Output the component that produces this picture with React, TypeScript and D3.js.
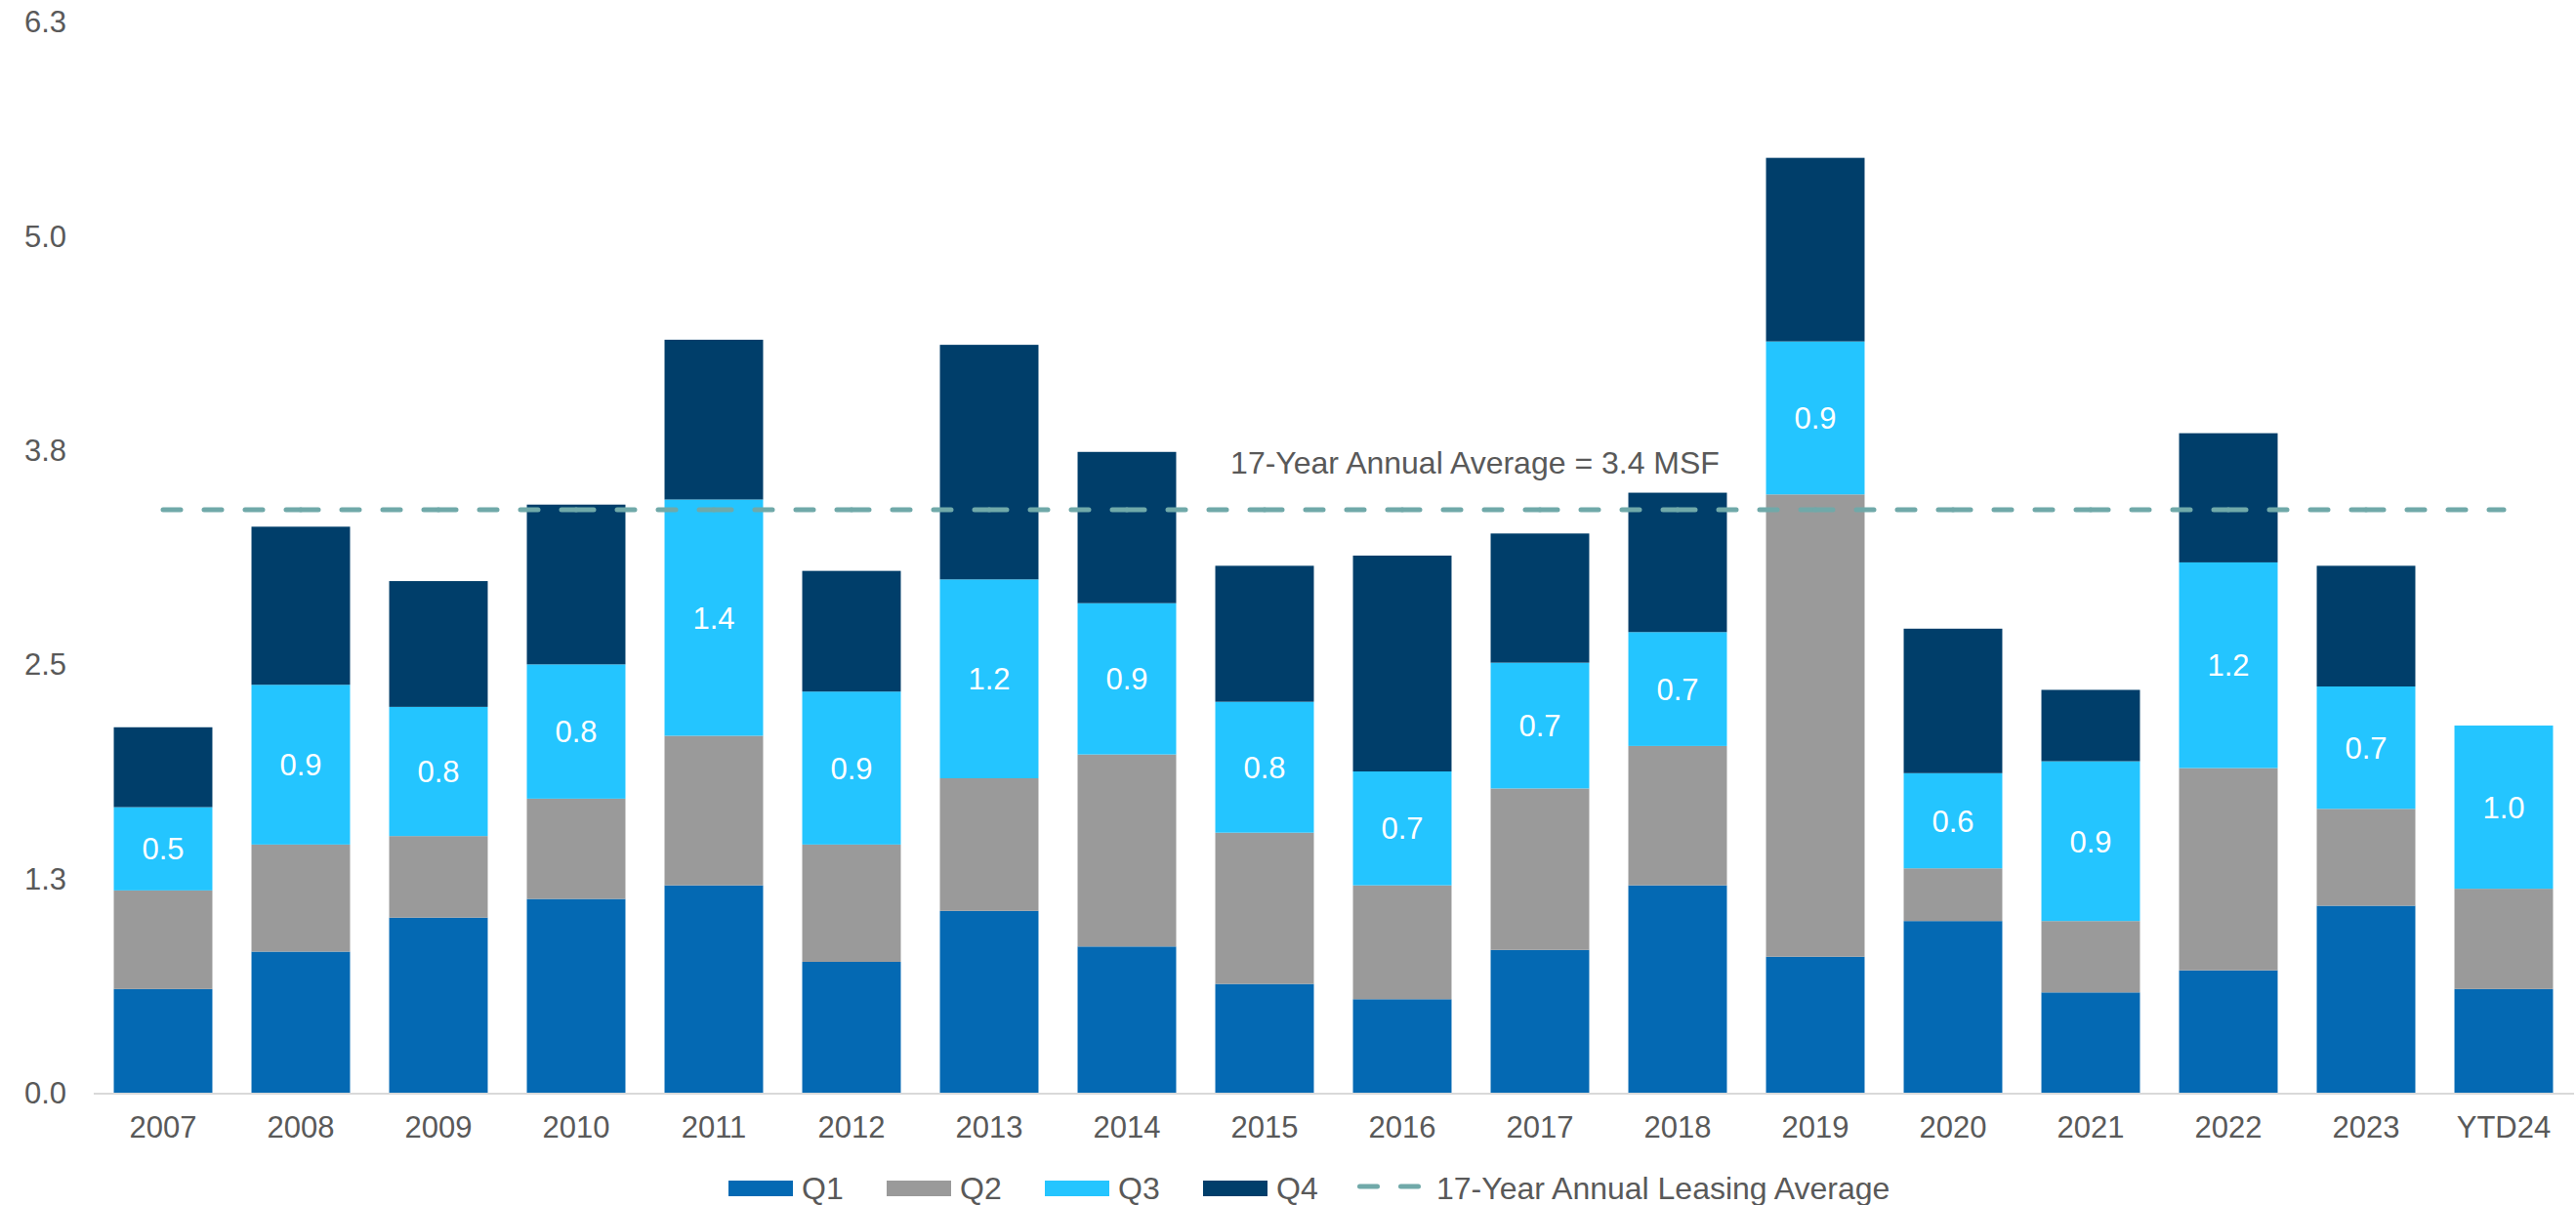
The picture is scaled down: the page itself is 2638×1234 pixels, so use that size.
import { useEffect, useRef } from 'react';
import * as d3 from 'd3';

const years = ['2007', '2008', '2009', '2010', '2011', '2012', '2013', '2014', '2015', '2016', '2017', '2018', '2019', '2020', '2021', '2022', '2023', 'YTD24'];
const q1 = [0.61, 0.83, 1.03, 1.14, 1.22, 0.77, 1.07, 0.86, 0.64, 0.55, 0.84, 1.22, 0.80, 1.01, 0.59, 0.72, 1.10, 0.61];
const q2 = [0.58, 0.63, 0.48, 0.59, 0.88, 0.69, 0.78, 1.13, 0.89, 0.67, 0.95, 0.82, 2.72, 0.31, 0.42, 1.19, 0.57, 0.59];
const q3 = [0.49, 0.94, 0.76, 0.79, 1.39, 0.90, 1.17, 0.89, 0.77, 0.67, 0.74, 0.67, 0.90, 0.56, 0.94, 1.21, 0.72, 0.96];
const q4 = [0.47, 0.93, 0.74, 0.94, 0.94, 0.71, 1.38, 0.89, 0.80, 1.27, 0.76, 0.82, 1.08, 0.85, 0.42, 0.76, 0.71, 0];
const yTicks = [0, 1.26, 2.52, 3.78, 5.04, 6.3];
const avgValue = 3.43;
const avgLabel = '17-Year Annual Average = 3.4 MSF';
const seriesNames = ['Q1', 'Q2', 'Q3', 'Q4'];
const seriesColors = ['#0469B3', '#9A9A9A', '#24C5FF', '#003E6A'];
const avgLegend = '17-Year Annual Leasing Average';

const FONT = '"Liberation Sans", Arial, sans-serif';
const TEXT = '#595959';
const AVG_COLOR = '#70A9A9';

export default function App() {
  const svgRef = useRef<SVGSVGElement>(null);

  useEffect(() => {
    if (!svgRef.current) return;
    const width = 2638;
    const height = 1234;
    const svg = d3.select(svgRef.current);
    svg.selectAll('*').remove();
    svg.attr('width', width).attr('height', height);

    const x = d3.scaleBand<string>()
      .domain(years)
      .range([96.5, 2634.5])
      .paddingInner(0.284)
      .paddingOuter(0.142);
    const y = d3.scaleLinear().domain([0, 6.3]).range([1119, 22.4]);

    const rows = years.map((yr, i) => ({ year: yr, Q1: q1[i], Q2: q2[i], Q3: q3[i], Q4: q4[i] }));
    const stacked = d3.stack<any>().keys(seriesNames)(rows);

    // y tick labels (no gridlines)
    svg.append('g')
      .selectAll('text')
      .data(yTicks)
      .join('text')
      .attr('x', 68)
      .attr('y', (d) => y(d))
      .attr('dy', '0.35em')
      .attr('text-anchor', 'end')
      .attr('fill', TEXT)
      .attr('font-family', FONT)
      .attr('font-size', '31px')
      .text((d) => d.toFixed(1));

    // stacked bars
    stacked.forEach((layer, si) => {
      svg.append('g')
        .attr('fill', seriesColors[si])
        .selectAll('rect')
        .data(layer)
        .join('rect')
        .attr('x', (d: any) => x(d.data.year)!)
        .attr('width', x.bandwidth())
        .attr('y', (d) => y(d[1]))
        .attr('height', (d) => Math.max(0, y(d[0]) - y(d[1])));
    });

    // Q3 value labels
    const q3Layer = stacked[2];
    svg.append('g')
      .selectAll('text')
      .data(q3Layer)
      .join('text')
      .attr('x', (d: any) => x(d.data.year)! + x.bandwidth() / 2)
      .attr('y', (d) => (y(d[0]) + y(d[1])) / 2)
      .attr('dy', '0.36em')
      .attr('text-anchor', 'middle')
      .attr('fill', '#ffffff')
      .attr('font-family', FONT)
      .attr('font-size', '31px')
      .text((d: any) => d.data.Q3.toFixed(1));

    // x axis line
    svg.append('line')
      .attr('x1', 96).attr('x2', 2636)
      .attr('y1', y(0) + 1).attr('y2', y(0) + 1)
      .attr('stroke', '#D9D9D9')
      .attr('stroke-width', 2);

    // year labels
    svg.append('g')
      .selectAll('text')
      .data(years)
      .join('text')
      .attr('x', (d) => x(d)! + x.bandwidth() / 2)
      .attr('y', 1165)
      .attr('text-anchor', 'middle')
      .attr('fill', TEXT)
      .attr('font-family', FONT)
      .attr('font-size', '31px')
      .text((d) => d);

    // average line: dashes restart at every category, like the source chart
    const centers = years.map((d) => x(d)! + x.bandwidth() / 2);
    const ya = y(avgValue);
    const avgG = svg.append('g');
    for (let i = 0; i < centers.length - 1; i++) {
      avgG.append('line')
        .attr('x1', centers[i]).attr('x2', centers[i + 1])
        .attr('y1', ya).attr('y2', ya)
        .attr('stroke', AVG_COLOR)
        .attr('stroke-width', 5)
        .attr('stroke-linecap', 'round')
        .attr('stroke-dasharray', '18 24');
    }

    svg.append('text')
      .attr('x', (centers[9] + centers[10]) / 2 + 4)
      .attr('y', ya - 37)
      .attr('text-anchor', 'middle')
      .attr('fill', TEXT)
      .attr('font-family', FONT)
      .attr('font-size', '32px')
      .text(avgLabel);

    // legend
    const legend = svg.append('g');
    const lx = 746;
    const ly = 1217;
    seriesNames.forEach((name, i) => {
      const gx = lx + i * 162;
      legend.append('rect')
        .attr('x', gx).attr('y', ly - 8)
        .attr('width', 66).attr('height', 16)
        .attr('fill', seriesColors[i]);
      legend.append('text')
        .attr('x', gx + 75).attr('y', ly + 11)
        .attr('fill', TEXT)
        .attr('font-family', FONT)
        .attr('font-size', '32px')
        .text(name);
    });
    legend.append('line')
      .attr('x1', 1392.5).attr('x2', 1453.5)
      .attr('y1', ly - 2).attr('y2', ly - 2)
      .attr('stroke', AVG_COLOR)
      .attr('stroke-width', 5)
      .attr('stroke-linecap', 'round')
      .attr('stroke-dasharray', '18 24');
    legend.append('text')
      .attr('x', 1471).attr('y', ly + 11)
      .attr('fill', TEXT)
      .attr('font-family', FONT)
      .attr('font-size', '32px')
      .text(avgLegend);
  }, []);

  return <svg ref={svgRef} style={{ position: 'absolute', left: 0, top: 0, background: '#fff' }} />;
}
